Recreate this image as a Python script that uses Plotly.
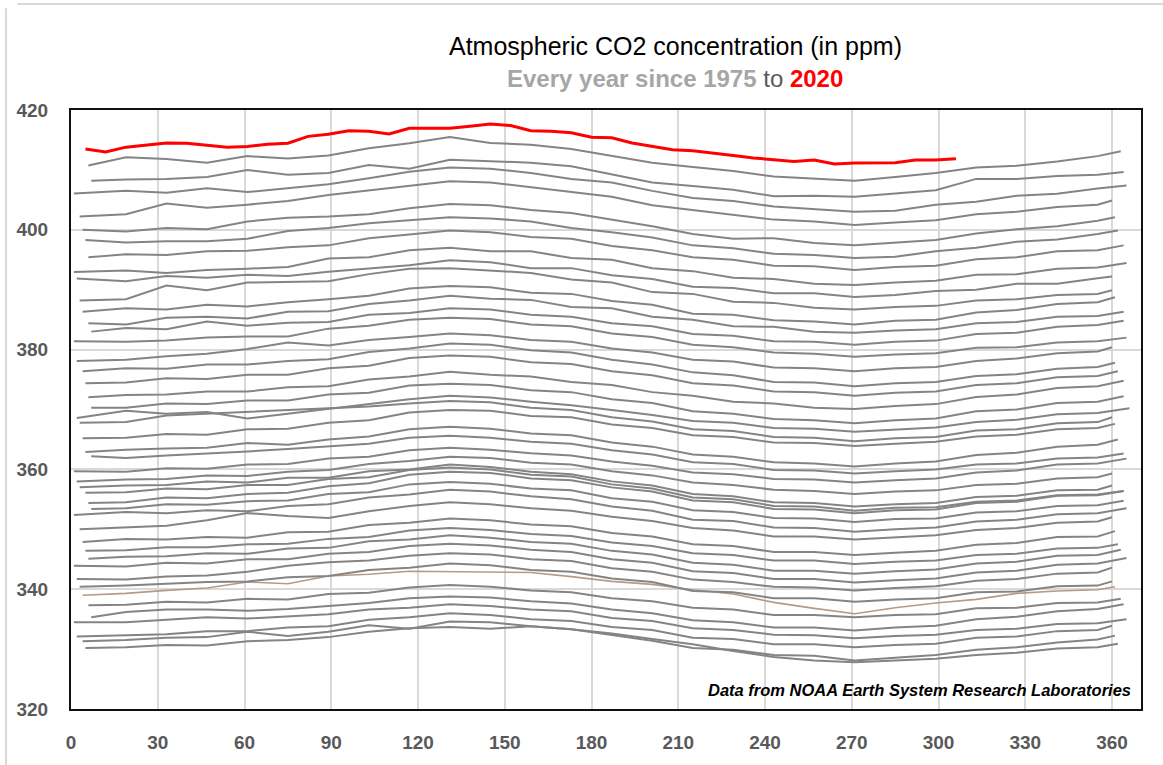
import plotly.graph_objects as go

# ---------------- data ----------------
YEARS = list(range(1975, 2020))
FIRST_DAY = [5, 4, 2, 1, 7, 6, 4, 3, 2, 1, 6, 5, 4, 3, 1, 7, 6, 5, 3, 2, 1, 7, 5, 4, 3,
             2, 7, 6, 5, 4, 2, 1, 7, 6, 4, 3, 2, 1, 6, 5, 4, 3, 1, 7, 6]
LAST_DAY = [362, 361, 360, 365, 364, 363, 361, 360, 360, 365, 363, 362, 361, 360, 365,
            364, 364, 364, 360, 360, 365, 364, 362, 361, 360, 366, 364, 364, 362, 361,
            360, 365, 364, 364, 361, 360, 360, 365, 364, 362, 361, 360, 365, 364, 363]
MID_DAYS = [19, 33, 47, 61, 75, 89, 103, 117, 131, 145, 159, 173, 187, 201, 215, 229,
            243, 257, 271, 285, 299, 313, 327, 341, 355]

co2_1975 = [330.2, 330.3, 330.7, 330.6, 331.3, 331.5, 332.0, 332.9, 333.5, 333.7, 333.4, 333.8, 333.3, 332.6, 331.7, 330.8, 329.7, 328.7, 328.1, 327.8, 328.1, 328.4, 329.0, 329.4, 330.1, 330.3, 330.9]
co2_1976 = [331.3, 331.5, 331.9, 332.0, 332.9, 332.2, 332.9, 334.0, 333.4, 334.6, 334.5, 333.8, 333.3, 332.4, 331.4, 330.2, 329.9, 329.0, 328.9, 328.1, 328.5, 329.0, 329.9, 330.3, 331.1, 331.6, 332.25]
co2_1977 = [332.1, 332.3, 332.5, 333.0, 333.0, 333.6, 333.8, 334.9, 335.3, 336.0, 335.7, 335.0, 334.7, 333.7, 333.2, 331.9, 331.7, 330.8, 330.8, 330.3, 330.7, 330.9, 331.9, 332.1, 333.0, 333.2, 333.9]
co2_1978 = [334.5, 334.5, 334.9, 335.3, 335.1, 335.5, 335.8, 336.6, 336.9, 337.5, 337.2, 336.6, 336.3, 335.2, 334.7, 333.5, 333.2, 332.4, 332.3, 331.8, 332.2, 332.4, 333.2, 333.4, 334.2, 334.3, 335.0]
co2_1979 = [335.3, 336.2, 336.6, 336.6, 336.4, 336.7, 337.2, 337.7, 338.5, 338.8, 338.6, 338.0, 337.6, 336.6, 336.0, 334.8, 334.5, 333.6, 333.6, 333.1, 333.6, 333.9, 335.0, 335.4, 336.3, 336.7, 337.5]
co2_1980 = [337.3, 337.4, 337.9, 337.8, 338.4, 338.3, 339.2, 339.4, 340.3, 340.7, 340.4, 339.8, 339.5, 338.5, 338.0, 336.9, 336.6, 335.7, 335.7, 335.3, 335.7, 335.8, 336.8, 336.9, 337.7, 337.8, 338.4]
co2_1981 = [339.0, 339.3, 339.8, 340.2, 341.2, 340.9, 342.2, 342.5, 343.0, 342.9, 342.9, 342.8, 342.1, 341.3, 340.8, 339.9, 339.2, 337.8, 336.8, 335.9, 336.9, 337.7, 338.3, 339.3, 339.7, 339.9, 340.4]
co2_1982 = [340.4, 340.6, 340.9, 341.2, 341.3, 342.0, 342.2, 343.2, 343.6, 344.3, 344.0, 343.2, 342.9, 341.8, 341.2, 339.7, 339.5, 338.5, 338.5, 337.9, 338.3, 338.5, 339.5, 339.6, 340.5, 340.6, 341.3]
co2_1983 = [341.7, 341.6, 342.1, 342.3, 342.9, 343.9, 344.5, 344.8, 345.6, 346.0, 345.8, 345.0, 344.7, 343.5, 342.9, 341.6, 341.2, 340.4, 340.3, 339.8, 340.2, 340.5, 341.4, 341.7, 342.6, 342.8, 343.6]
co2_1984 = [343.9, 343.8, 344.4, 344.3, 345.0, 345.0, 345.9, 346.2, 347.2, 347.6, 347.3, 346.6, 346.2, 345.0, 344.4, 343.0, 342.7, 341.7, 341.7, 341.1, 341.5, 341.8, 342.8, 343.1, 344.1, 344.3, 345.2]
co2_1985 = [345.1, 345.4, 345.5, 346.0, 345.9, 346.8, 346.9, 348.0, 348.3, 349.0, 348.6, 347.9, 347.6, 346.4, 345.8, 344.4, 344.1, 343.1, 343.1, 342.6, 343.0, 343.3, 344.3, 344.6, 345.6, 345.7, 346.6]
co2_1986 = [346.4, 346.5, 347.0, 347.0, 347.5, 347.6, 348.4, 348.7, 349.8, 350.2, 349.9, 349.2, 348.9, 347.8, 347.2, 346.0, 345.7, 344.8, 344.8, 344.2, 344.6, 344.8, 345.7, 345.9, 346.8, 346.9, 347.5]
co2_1987 = [347.9, 348.4, 348.3, 348.7, 348.6, 349.5, 349.6, 350.7, 351.1, 351.8, 351.5, 350.8, 350.5, 349.4, 348.8, 347.5, 347.2, 346.2, 346.2, 345.7, 346.1, 346.4, 347.4, 347.7, 348.7, 348.8, 349.7]
co2_1988 = [350.0, 350.3, 350.6, 351.5, 352.7, 352.2, 351.9, 353.0, 353.9, 354.5, 354.2, 353.5, 353.1, 352.1, 351.4, 350.2, 349.8, 348.8, 348.8, 348.3, 348.7, 349.0, 349.9, 350.2, 351.1, 351.3, 352.0]
co2_1989 = [352.4, 352.9, 352.7, 353.2, 353.0, 353.9, 354.2, 355.3, 355.8, 356.6, 356.3, 355.5, 355.0, 353.8, 353.1, 351.6, 351.4, 350.3, 350.2, 349.6, 350.0, 350.3, 351.3, 351.6, 352.5, 352.7, 353.5]
co2_1990 = [353.4, 353.5, 354.2, 354.1, 354.7, 354.8, 355.9, 356.2, 357.5, 357.9, 357.6, 356.8, 356.5, 355.2, 354.6, 353.2, 352.9, 351.9, 351.8, 351.2, 351.7, 351.8, 352.8, 353.0, 353.9, 354.0, 354.75]
co2_1991 = [354.4, 354.5, 355.3, 355.2, 355.9, 356.1, 357.2, 357.7, 359.1, 359.6, 359.4, 358.5, 358.2, 357.0, 356.3, 354.8, 354.5, 353.4, 353.3, 352.7, 353.2, 353.3, 354.4, 354.6, 355.6, 355.7, 356.4]
co2_1992 = [356.1, 356.2, 356.8, 356.7, 357.4, 357.4, 358.4, 358.7, 359.9, 360.3, 360.0, 359.1, 358.8, 357.5, 356.8, 355.3, 355.0, 353.9, 353.8, 353.1, 353.6, 353.7, 354.6, 354.8, 355.7, 355.8, 356.4]
co2_1993 = [357.0, 357.3, 357.4, 358.0, 357.8, 358.6, 358.6, 359.7, 360.0, 360.8, 360.4, 359.6, 359.2, 358.0, 357.3, 355.9, 355.5, 354.5, 354.4, 353.8, 354.2, 354.4, 355.4, 355.6, 356.5, 356.6, 357.3]
co2_1994 = [358.0, 358.3, 358.4, 359.0, 358.9, 359.6, 359.9, 360.9, 361.4, 362.1, 361.9, 361.1, 360.8, 359.7, 359.0, 357.8, 357.4, 356.6, 356.4, 355.9, 356.3, 356.5, 357.4, 357.6, 358.5, 358.7, 359.3]
co2_1995 = [359.7, 359.6, 360.2, 360.1, 360.8, 360.9, 361.8, 362.1, 363.2, 363.6, 363.3, 362.7, 362.3, 361.3, 360.6, 359.5, 359.2, 358.4, 358.3, 357.8, 358.2, 358.5, 359.5, 359.8, 360.8, 361.0, 361.8]
co2_1996 = [362.2, 361.9, 362.3, 362.6, 363.0, 363.4, 363.9, 364.3, 365.3, 365.6, 365.3, 364.6, 364.3, 363.2, 362.5, 361.2, 360.9, 359.9, 359.8, 359.3, 359.7, 360.0, 360.8, 361.0, 361.8, 362.0, 362.65]
co2_1997 = [362.9, 363.3, 363.5, 363.6, 364.4, 364.1, 365.0, 365.5, 366.7, 367.1, 366.8, 366.0, 365.7, 364.5, 363.8, 362.5, 362.1, 361.2, 361.0, 360.5, 361.0, 361.3, 362.4, 362.8, 363.8, 364.1, 365.0]
co2_1998 = [365.2, 365.3, 365.9, 365.8, 366.7, 366.8, 367.8, 368.2, 369.5, 369.9, 369.8, 368.9, 368.7, 367.5, 366.9, 365.7, 365.4, 364.5, 364.4, 363.9, 364.3, 364.6, 365.5, 365.8, 366.7, 366.9, 367.6]
co2_1999 = [367.8, 367.9, 369.0, 369.3, 369.7, 370.0, 370.2, 370.5, 371.0, 371.4, 371.2, 370.3, 369.9, 368.7, 368.0, 366.7, 366.4, 365.4, 365.3, 364.7, 365.2, 365.4, 366.5, 366.7, 367.7, 367.9, 368.7]
co2_2000 = [368.6, 369.8, 369.3, 369.6, 368.5, 369.3, 370.2, 370.9, 371.7, 372.3, 372.0, 371.3, 370.7, 369.9, 369.1, 368.1, 367.8, 366.9, 366.8, 366.3, 366.7, 367.0, 367.9, 368.3, 369.2, 369.4, 370.2]
co2_2001 = [370.3, 370.3, 371.0, 370.9, 371.5, 371.5, 372.5, 372.8, 374.0, 374.3, 374.1, 373.2, 372.9, 371.7, 371.1, 369.7, 369.3, 368.4, 368.2, 367.7, 368.2, 368.5, 369.7, 370.0, 371.1, 371.3, 372.2]
co2_2002 = [372.05, 372.4, 372.5, 373.0, 373.0, 373.7, 373.9, 375.0, 375.5, 376.3, 375.8, 375.5, 374.6, 374.1, 372.9, 372.3, 371.3, 371.0, 370.3, 370.1, 370.6, 370.9, 372.1, 372.5, 373.6, 373.9, 374.8]
co2_2003 = [374.4, 374.5, 375.2, 375.1, 375.8, 375.8, 376.9, 377.3, 378.6, 379.0, 378.8, 377.9, 377.6, 376.4, 375.7, 374.4, 374.0, 373.0, 372.9, 372.3, 372.8, 373.0, 374.1, 374.4, 375.4, 375.6, 376.4]
co2_2004 = [376.4, 376.9, 376.8, 377.5, 377.5, 378.1, 378.4, 379.6, 380.2, 381.0, 380.8, 379.9, 379.5, 378.3, 377.5, 376.2, 375.7, 374.6, 374.5, 373.9, 374.4, 374.6, 375.6, 375.9, 376.8, 377.1, 377.8]
co2_2005 = [378.1, 378.3, 378.9, 379.3, 380.1, 381.2, 380.7, 381.6, 382.1, 382.7, 382.4, 381.6, 381.3, 380.2, 379.5, 378.3, 378.0, 377.0, 376.9, 376.4, 376.9, 377.1, 378.1, 378.5, 379.4, 379.7, 380.4]
co2_2006 = [381.4, 381.3, 381.5, 382.0, 382.2, 382.2, 383.5, 384.0, 385.0, 385.3, 385.1, 384.2, 383.9, 382.7, 382.1, 380.8, 380.4, 379.5, 379.3, 378.8, 379.2, 379.4, 380.3, 380.4, 381.2, 381.4, 382.0]
co2_2007 = [383.0, 383.6, 383.4, 384.7, 384.0, 384.5, 384.6, 385.8, 386.1, 386.9, 386.7, 385.8, 385.5, 384.4, 383.9, 382.6, 382.3, 381.4, 381.3, 380.8, 381.3, 381.5, 382.6, 382.8, 383.8, 384.1, 384.8]
co2_2008 = [384.4, 384.2, 385.3, 385.5, 385.2, 386.3, 386.4, 387.6, 388.2, 389.0, 388.5, 388.3, 387.1, 386.9, 385.5, 385.0, 383.9, 383.8, 383.0, 382.8, 383.2, 383.4, 384.4, 384.6, 385.5, 385.6, 386.3]
co2_2009 = [386.3, 386.9, 386.7, 387.5, 387.2, 387.9, 388.4, 389.0, 390.2, 390.6, 390.4, 389.5, 389.3, 388.1, 387.5, 386.0, 385.8, 384.9, 384.7, 384.2, 384.8, 385.0, 386.2, 386.6, 387.6, 387.9, 388.75]
co2_2010 = [388.2, 388.4, 390.7, 389.9, 391.2, 391.3, 391.4, 392.6, 393.5, 393.6, 393.2, 392.8, 391.7, 391.2, 389.6, 389.3, 388.0, 387.8, 387.0, 386.7, 387.1, 387.3, 388.2, 388.4, 389.1, 389.3, 389.9]
co2_2011 = [391.85, 391.4, 392.3, 392.0, 392.5, 392.3, 393.0, 393.5, 394.1, 394.9, 394.6, 393.6, 393.6, 392.4, 391.8, 390.5, 390.3, 389.4, 389.4, 388.8, 389.1, 389.8, 390.0, 391.0, 391.0, 391.9, 392.2]
co2_2012 = [392.95, 393.2, 392.8, 393.3, 393.5, 393.8, 395.2, 395.4, 396.6, 397.0, 396.4, 396.4, 395.3, 395.0, 393.6, 393.1, 392.0, 391.8, 391.0, 390.8, 391.2, 391.5, 392.5, 392.6, 393.5, 393.7, 394.45]
co2_2013 = [395.4, 395.9, 395.8, 396.4, 396.5, 397.1, 397.4, 398.6, 399.2, 399.9, 399.6, 398.8, 398.5, 397.3, 396.6, 395.4, 395.0, 394.0, 393.9, 393.3, 393.8, 394.0, 395.1, 395.4, 396.4, 396.6, 397.4]
co2_2014 = [398.3, 397.9, 398.1, 398.1, 398.5, 399.8, 400.3, 401.1, 401.6, 402.1, 401.9, 401.4, 400.3, 399.6, 398.7, 397.4, 396.9, 396.0, 395.8, 395.3, 395.5, 396.4, 397.0, 398.0, 398.4, 399.3, 399.9]
co2_2015 = [400.0, 399.7, 400.3, 400.1, 401.4, 402.0, 402.2, 402.6, 403.6, 404.3, 404.1, 403.3, 402.8, 401.7, 400.6, 399.3, 398.5, 398.6, 397.8, 397.4, 397.9, 398.3, 399.4, 400.1, 400.6, 401.5, 402.1]
co2_2016 = [402.2, 402.6, 404.4, 403.7, 404.2, 404.8, 405.8, 406.6, 407.4, 408.1, 407.9, 407.1, 406.2, 405.5, 404.1, 403.3, 402.5, 401.7, 401.4, 400.8, 401.2, 401.6, 402.6, 403.0, 403.8, 404.2, 404.9]
co2_2017 = [406.05, 406.5, 406.2, 406.95, 406.3, 406.9, 407.6, 408.6, 409.7, 410.4, 410.2, 409.5, 408.5, 407.9, 406.5, 405.3, 404.8, 403.9, 403.5, 403.0, 403.2, 404.2, 404.7, 405.7, 406.0, 406.9, 407.4]
co2_2018 = [408.2, 408.4, 408.5, 408.8, 410.0, 409.2, 409.5, 410.8, 410.2, 411.7, 411.45, 411.2, 410.6, 409.3, 407.9, 407.3, 406.7, 405.6, 405.7, 405.5, 406.0, 406.6, 408.5, 408.5, 409.0, 409.2, 409.65]
co2_2019 = [410.75, 412.1, 411.8, 411.2, 412.3, 411.9, 412.4, 413.6, 414.45, 415.5, 414.5, 414.2, 413.5, 412.3, 411.2, 410.5, 409.8, 408.9, 408.6, 408.2, 408.8, 409.5, 410.4, 410.7, 411.4, 412.3, 413.1]

DAYS_2020 = [5, 12, 19, 26, 33, 40, 47, 54, 61, 68, 75, 82, 89, 96, 103, 110, 117, 124, 131,
             138, 145, 152, 159, 166, 173, 180, 187, 194, 201, 208, 215, 222, 229, 236, 243,
             250, 257, 264, 271, 278, 285, 292, 299, 306]
co2_2020 = [413.5, 413.0, 413.8, 414.2, 414.5, 414.45, 414.1, 413.8, 413.9, 414.3, 414.45,
            415.6, 415.95, 416.55, 416.45, 416.0, 416.95, 417.0, 416.95, 417.3, 417.65, 417.4,
            416.55, 416.45, 416.2, 415.45, 415.35, 414.5, 413.9, 413.35, 413.2, 412.85, 412.4,
            412.0, 411.7, 411.4, 411.65, 411.0, 411.15, 411.15, 411.2, 411.65, 411.65, 411.85]

SERIES = [co2_1975, co2_1976, co2_1977, co2_1978, co2_1979, co2_1980, co2_1981, co2_1982,
          co2_1983, co2_1984, co2_1985, co2_1986, co2_1987, co2_1988, co2_1989, co2_1990,
          co2_1991, co2_1992, co2_1993, co2_1994, co2_1995, co2_1996, co2_1997, co2_1998,
          co2_1999, co2_2000, co2_2001, co2_2002, co2_2003, co2_2004, co2_2005, co2_2006,
          co2_2007, co2_2008, co2_2009, co2_2010, co2_2011, co2_2012, co2_2013, co2_2014,
          co2_2015, co2_2016, co2_2017, co2_2018, co2_2019]

X_TICKS = [0, 30, 60, 90, 120, 150, 180, 210, 240, 270, 300, 330, 360]
Y_TICKS = [320, 340, 360, 380, 400, 420]

# ---------------- figure ----------------
fig = go.Figure()
for year, first, last, vals in zip(YEARS, FIRST_DAY, LAST_DAY, SERIES):
    xs = [first] + MID_DAYS + [last]
    if year == 1981:
        line = dict(color="#b49a88", width=1.6)
    else:
        line = dict(color="#848484", width=2.0)
    fig.add_trace(go.Scatter(x=xs, y=vals, mode="lines", line=line,
                             name=str(year), hoverinfo="skip"))

fig.add_trace(go.Scatter(x=DAYS_2020, y=co2_2020, mode="lines",
                         line=dict(color="#ff0000", width=3), name="2020",
                         hoverinfo="skip"))

FONT = "Liberation Sans, Arial, sans-serif"
tickfont = dict(family=FONT, size=19, color="#595959", weight="bold")

fig.update_layout(
    width=1163, height=765,
    margin=dict(l=71, r=22, t=110, b=51),
    paper_bgcolor="white", plot_bgcolor="white",
    showlegend=False,
    font=dict(family=FONT),
    xaxis=dict(range=[0, 370], tickvals=X_TICKS, showgrid=True, gridcolor="#d9d9d9",
               gridwidth=1.5, zeroline=False, showline=True, linecolor="#111111",
               linewidth=2, mirror=True, ticks="", tickfont=tickfont,
               ticklabelstandoff=15),
    yaxis=dict(range=[320, 420], tickvals=Y_TICKS, showgrid=True, gridcolor="#d9d9d9",
               gridwidth=1.5, zeroline=False, showline=True, linecolor="#111111",
               linewidth=2, mirror=True, ticks="", tickfont=tickfont,
               ticklabelstandoff=17),
    annotations=[
        dict(text="Atmospheric CO2 concentration (in ppm)", xref="paper", yref="paper",
             x=0.5645, y=1.1076, xanchor="center", yanchor="middle", showarrow=False,
             font=dict(family=FONT, size=25, color="#000000")),
        dict(text="<b><span style='color:#a6a6a6'>Every year since 1975</span></b> "
                  "<span style='color:#595959'>to</span> "
                  "<b><span style='color:#ff0000'>2020</span></b>",
             xref="paper", yref="paper", x=0.5645, y=1.053, xanchor="center",
             yanchor="middle", showarrow=False,
             font=dict(family=FONT, size=24, color="#a6a6a6")),
        dict(text="<b><i>Data from NOAA Earth System Research Laboratories</i></b>",
             xref="paper", yref="paper", x=0.9925, y=0.0315, xanchor="right",
             yanchor="middle", showarrow=False,
             font=dict(family=FONT, size=16.5, color="#000000")),
    ],
    shapes=[
        dict(type="line", xref="paper", yref="paper", x0=-0.0607, x1=-0.0607,
             y0=-0.1, y1=1.17, line=dict(color="#d9d9d9", width=2)),
        dict(type="line", xref="paper", yref="paper", x0=-0.05, x1=1.05,
             y0=1.177, y1=1.177, line=dict(color="#d9d9d9", width=2)),
    ],
)

fig.write_html("out.html", config={"displayModeBar": False},
               post_script="document.body.style.margin='0';")
